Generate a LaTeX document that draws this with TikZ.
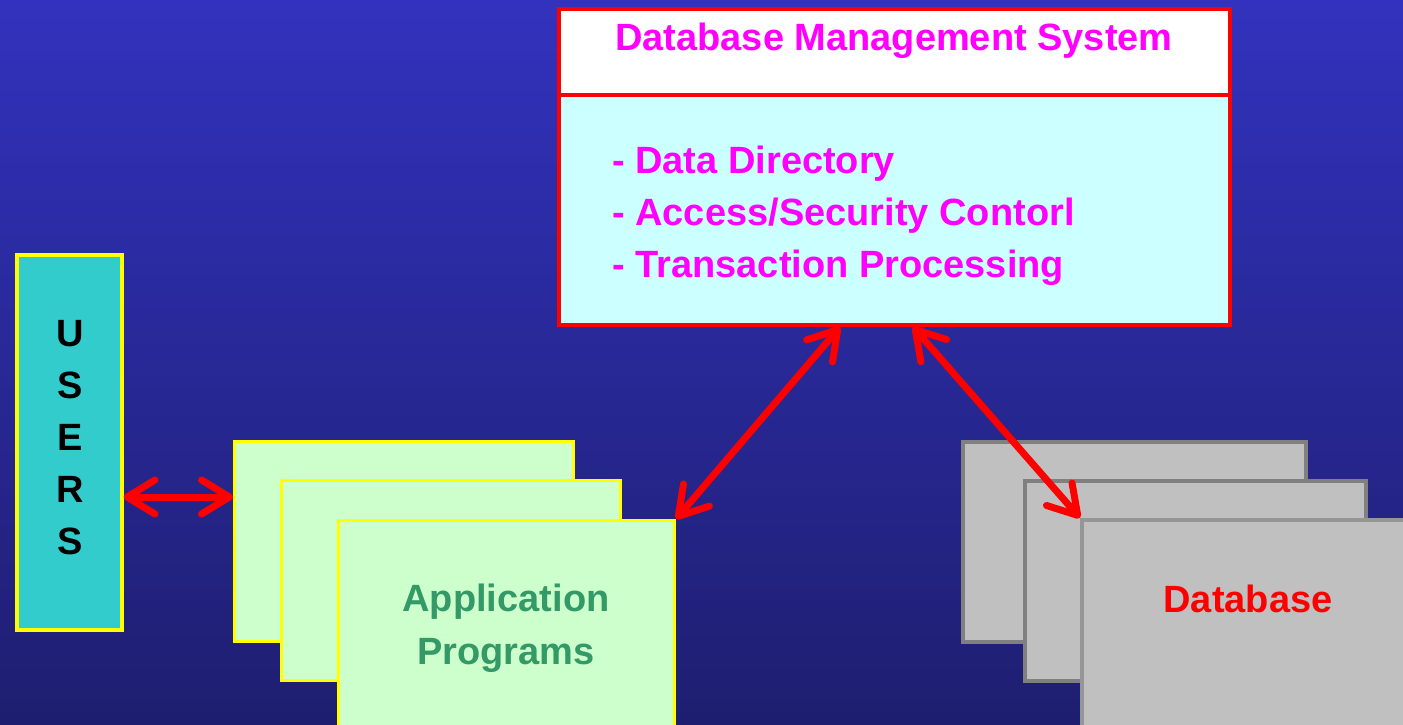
\documentclass[tikz,border=0pt]{standalone}
\usepackage{fontspec}
\setmainfont{Liberation Sans}
\usetikzlibrary{arrows.meta}
\definecolor{bgtop}{RGB}{50,50,190}
\definecolor{bgbot}{RGB}{30,30,112}
\definecolor{bodycyan}{RGB}{204,255,255}
\definecolor{usercyan}{RGB}{51,204,204}
\definecolor{appgreen}{RGB}{204,255,204}
\definecolor{apptext}{RGB}{51,153,102}
\definecolor{dbgray}{RGB}{192,192,192}
\definecolor{dbedge}{RGB}{128,128,128}
\definecolor{dbedgelight}{RGB}{150,150,150}
\definecolor{pureyellow}{RGB}{255,255,0}
\definecolor{purered}{RGB}{255,0,0}
\definecolor{puremagenta}{RGB}{255,0,255}
\begin{document}
\begin{tikzpicture}[x=1pt,y=-1pt,
  box/.style={rectangle,inner sep=0pt,anchor=north west},
  appbox/.style={box,draw=pureyellow,fill=appgreen,line width=3pt,minimum width=339pt,minimum height=200pt},
  dbbox/.style={box,draw=dbedge,fill=dbgray,line width=3.5pt,minimum width=343pt,minimum height=200pt},
  dbmsbox/.style={box,draw=purered,line width=4pt,minimum width=671pt},
  lbl/.style={font=\fontsize{38}{46}\selectfont\bfseries,inner sep=0pt},
  barb/.tip={Straight Barb[length=28pt,width=34pt,line cap=round,line join=round]},
  link/.style={draw=purered,line width=7pt,line cap=round,barb-barb}
]
\clip (0,0) rectangle (1403,724);
\shade[top color=bgtop,bottom color=bgbot] (0,0) rectangle (1403,724);

% DBMS
\node[dbmsbox,fill=white,minimum height=86pt] (dbmshead) at (557,7) {};
\node[dbmsbox,fill=bodycyan,minimum height=230pt] (dbmsbody) at (557,93) {};
\node[lbl,text=puremagenta,anchor=base] (dbmstitle) at (894,50) {Database Management System};
\node[lbl,text=puremagenta,anchor=base west] (item1) at (612,173) {- Data Directory};
\node[lbl,text=puremagenta,anchor=base west] (item2) at (612,225) {- Access/Security Contorl};
\node[lbl,text=puremagenta,anchor=base west] (item3) at (612,277) {- Transaction Processing};

% Users
\node[box,draw=pureyellow,fill=usercyan,line width=3.5pt,minimum width=105pt,minimum height=375pt] (users) at (15,253) {};
\foreach \c [count=\i from 0] in {U,S,E,R,S}
  \node[lbl,anchor=base] (u\i) at (70,346+52*\i) {\c};

% Application programs
\node[appbox] (app1) at (233,440) {};
\node[appbox] (app2) at (280,479) {};
\node[appbox,minimum width=336pt,minimum height=215pt] (app3) at (337,519) {};
\node[lbl,text=apptext,anchor=base] (apptxt1) at (506,611) {Application};
\node[lbl,text=apptext,anchor=base] (apptxt2) at (506,664) {Programs};

% Database
\node[dbbox] (db1) at (961,440) {};
\node[dbbox,minimum width=341pt] (db2) at (1023,479) {};
\node[dbbox,draw=dbedgelight,minimum width=340pt,minimum height=215pt] (db3) at (1080,518) {};
\node[lbl,text=purered,anchor=base] (dbtxt) at (1248,612) {Database};

% Connectors
\coordinate (uright) at ([yshift=-244pt]users.north east);
\coordinate (aleft) at ([yshift=-57pt]app1.north west);
\coordinate (dbmsL) at ([xshift=283pt]dbmsbody.south west);
\coordinate (dbmsR) at ([xshift=356pt]dbmsbody.south west);
\draw[link] (uright) -- (aleft);
\draw[link] (dbmsL) -- (app3.north east);
\draw[link] (dbmsR) -- (db3.north west);
\end{tikzpicture}
\end{document}
